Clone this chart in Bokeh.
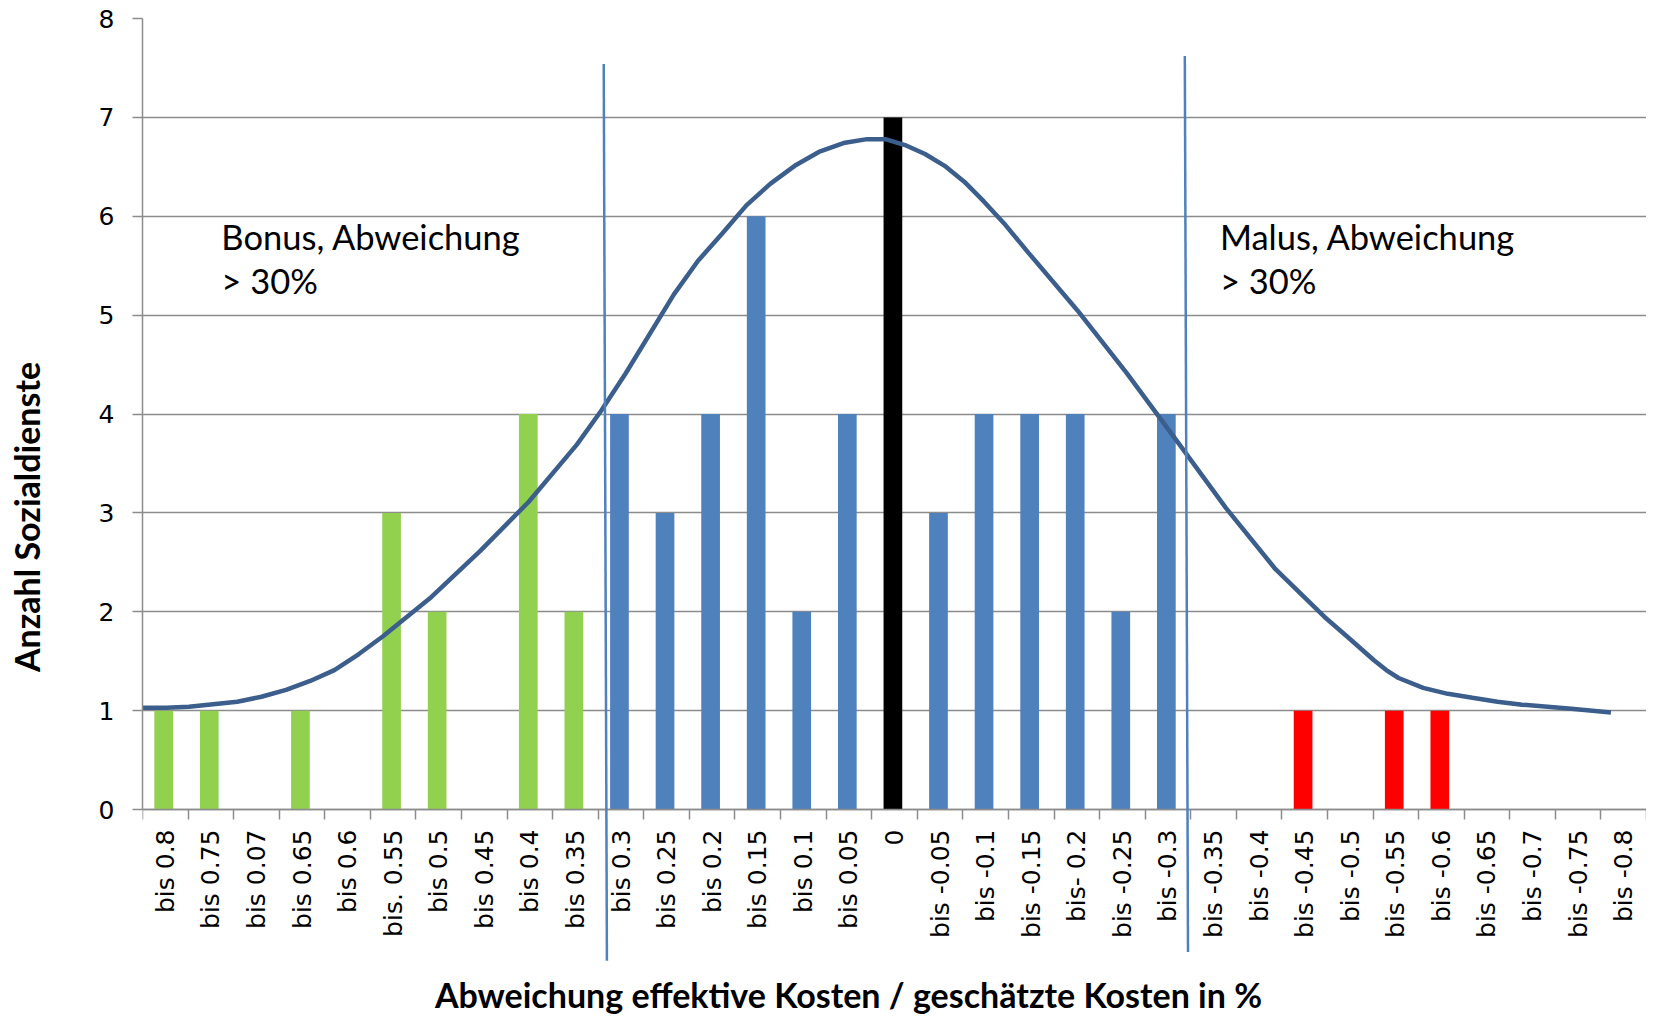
import math
from bokeh.plotting import figure
from bokeh.models import ColumnDataSource, FixedTicker, Label, Arrow, Range1d
from bokeh.transform import dodge
from bokeh.embed import file_html
from bokeh.resources import INLINE

# ---------------- data ----------------
categories = ["bis 0.8", "bis 0.75", "bis 0.07", "bis 0.65", "bis 0.6", "bis. 0.55",
              "bis 0.5", "bis 0.45", "bis 0.4", "bis 0.35", "bis 0.3", "bis 0.25",
              "bis 0.2", "bis 0.15", "bis 0.1", "bis 0.05", "0", "bis -0.05",
              "bis -0.1", "bis -0.15", "bis- 0.2", "bis -0.25", "bis -0.3",
              "bis -0.35", "bis -0.4", "bis -0.45", "bis -0.5", "bis -0.55",
              "bis -0.6", "bis -0.65", "bis -0.7", "bis -0.75", "bis -0.8"]
counts = [1, 1, 0, 1, 0, 3, 2, 0, 4, 2,
          4, 3, 4, 6, 2, 4,
          7,
          3, 4, 4, 4, 2, 4,
          0, 0, 1, 0, 1, 1, 0, 0, 0, 0]
zones = ["bonus"] * 10 + ["mid"] * 6 + ["zero"] + ["mid"] * 6 + ["malus"] * 10

# smoothed distribution curve (x in category units)
curve_x = [0.0, 0.53, 1.02, 2.08, 2.61, 3.15, 3.68, 4.21, 4.74, 5.27, 6.34, 7.4,
           8.47, 9.53, 10.06, 10.6, 11.66, 12.19, 12.73, 13.25, 13.78, 14.31,
           14.84, 15.38, 15.9, 16.3, 16.73, 17.17, 17.6, 18.03, 18.46, 18.9,
           19.44, 20.51, 21.6, 22.69, 23.77, 24.86, 25.93, 26.48, 27.02, 27.29,
           27.56, 28.1, 28.64, 29.18, 29.73, 30.27, 31.35, 32.22]
curve_y = [1.03, 1.03, 1.04, 1.09, 1.14, 1.21, 1.30, 1.41, 1.57, 1.75, 2.15, 2.61,
           3.11, 3.69, 4.03, 4.41, 5.21, 5.55, 5.83, 6.11, 6.33, 6.51,
           6.65, 6.74, 6.78, 6.78, 6.72, 6.63, 6.51, 6.35, 6.15, 5.93,
           5.63, 5.05, 4.41, 3.73, 3.05, 2.43, 1.95, 1.73, 1.51, 1.41,
           1.33, 1.23, 1.17, 1.13, 1.09, 1.06, 1.02, 0.98]

y_ticks = [0, 1, 2, 3, 4, 5, 6, 7, 8]

# separator lines (30% thresholds), in category / value units
sep_x_top = [10.12, 22.87]
sep_x_bottom = [10.19, 22.94]
sep_y_top = [7.54, 7.62]
sep_y_bottom = [-1.53, -1.44]

zone_colors = {"bonus": "#92D050", "mid": "#4F81BD", "zero": "#000000", "malus": "#FF0000"}
GRID = "#8C8C8C"

# ---------------- layout (pixels) ----------------
W, H = 1646, 1015
LEFT, TOP = 142, 18
PX_PER_UNIT = 791 / 8.0
y_bottom = -(H - TOP - 8 * PX_PER_UNIT) / PX_PER_UNIT

n = len(categories)
x_centers = [i + 0.5 for i in range(n)]
bar_src = ColumnDataSource(dict(x=x_centers, top=counts,
                                color=[zone_colors[z] for z in zones]))

p = figure(width=W, height=H, x_range=Range1d(0, n), y_range=Range1d(y_bottom, 8),
           output_backend="svg", toolbar_location=None,
           min_border_left=LEFT, min_border_right=0, min_border_top=TOP,
           min_border_bottom=0)
p.outline_line_color = None
p.background_fill_color = "white"
p.border_fill_color = "white"

# grid
p.xgrid.visible = False
p.ygrid.ticker = FixedTicker(ticks=y_ticks)
p.ygrid.grid_line_color = GRID
p.ygrid.grid_line_width = 1.5

# y axis
p.yaxis.ticker = FixedTicker(ticks=y_ticks)
p.yaxis.bounds = (0, 8)
p.yaxis.axis_line_color = GRID
p.yaxis.axis_line_width = 1.5
p.yaxis.major_tick_line_color = GRID
p.yaxis.major_tick_line_width = 1.5
p.yaxis.major_tick_out = 10
p.yaxis.major_tick_in = 0
p.yaxis.minor_tick_line_color = None
p.yaxis.major_label_text_font = "DejaVu Sans"
p.yaxis.major_label_text_font_size = "25px"
p.yaxis.major_label_text_color = "black"
p.yaxis.major_label_standoff = 18
p.yaxis.axis_label = "Anzahl Sozialdienste"
p.yaxis.axis_label_text_font = "Lato"
p.yaxis.axis_label_text_font_style = "bold"
p.yaxis.axis_label_text_font_size = "34px"
p.yaxis.axis_label_text_color = "black"
p.yaxis.axis_label_standoff = 49

# x axis: labels at centers, ticks at boundaries, placed at y = 0
p.xaxis.fixed_location = 0
p.xaxis.ticker = FixedTicker(ticks=x_centers, minor_ticks=list(range(0, n + 1)))
p.xaxis.major_label_overrides = {x: c for x, c in zip(x_centers, categories)}
p.xaxis.axis_line_color = GRID
p.xaxis.axis_line_width = 1.5
p.xaxis.major_tick_line_color = None
p.xaxis.major_tick_out = 0
p.xaxis.major_tick_in = 0
p.xaxis.minor_tick_line_color = GRID
p.xaxis.minor_tick_line_width = 1.5
p.xaxis.minor_tick_out = 10
p.xaxis.minor_tick_in = 0
p.xaxis.major_label_orientation = math.pi / 2
p.xaxis.major_label_text_font = "DejaVu Sans"
p.xaxis.major_label_text_font_size = "25px"
p.xaxis.major_label_text_color = "black"
p.xaxis.major_label_standoff = 10

# bars
p.vbar(x=dodge("x", -0.035), top="top", width=0.41, fill_color="color",
       line_color=None, source=bar_src)

# curve
p.line(curve_x, curve_y, line_color="#3B5E8C", line_width=4.5)

# separators
for xt, xb, yt, yb in zip(sep_x_top, sep_x_bottom, sep_y_top, sep_y_bottom):
    p.add_layout(Arrow(end=None, x_start=xb, y_start=yb, x_end=xt, y_end=yt,
                       line_color="#4F81BD", line_width=2.5))

# annotations
def add_text(x, y, text, size="34.5px", style="normal", **kw):
    p.add_layout(Label(x=x, y=y, text=text, text_font="Lato", text_font_size=size,
                       text_font_style=style, text_color="black", **kw))

add_text(1.73, 5.80, "Bonus, Abweichung", text_baseline="alphabetic")
add_text(1.73, 5.35, "> 30%", text_baseline="alphabetic")
add_text(23.64, 5.80, "Malus, Abweichung", text_baseline="alphabetic")
add_text(23.64, 5.35, "> 30%", text_baseline="alphabetic")

add_text(15.49, -1.87, "Abweichung effektive Kosten / geschätzte Kosten in %", size="34px",
         style="bold", text_align="center", text_baseline="alphabetic")

open("out.html", "w").write(file_html(p, INLINE))
